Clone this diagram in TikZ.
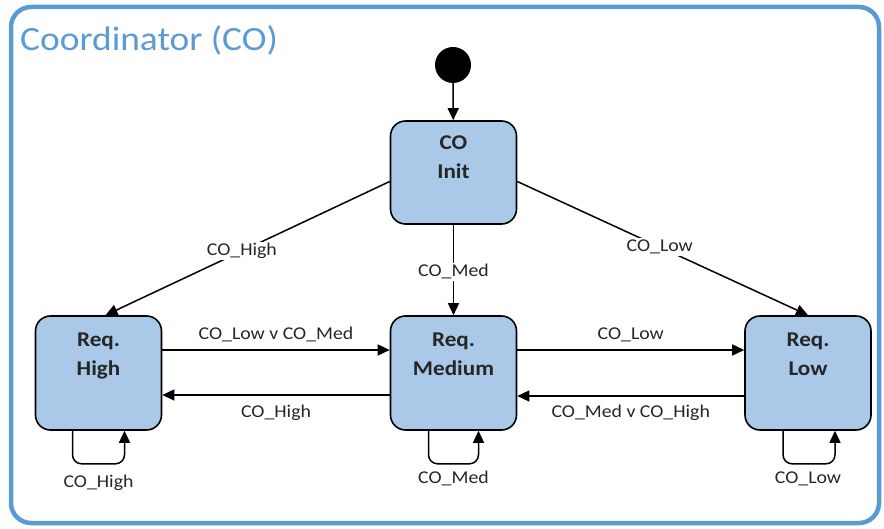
\documentclass[tikz,border=0pt]{standalone}
\usepackage{fontspec}
\setmainfont{Carlito}[FakeStretch=1.1]
\usetikzlibrary{arrows.meta}
\definecolor{framecol}{RGB}{91,155,213}
\definecolor{statefill}{RGB}{170,200,232}
\tikzset{
  x=1pt, y=-1pt,
  frame/.style={draw=framecol, line width=4.5pt, rounded corners=20pt},
  statebox/.style={draw=black, line width=1.6pt, fill=statefill, rounded corners=15pt,
    minimum width=126pt, inner sep=0pt},
  statetext/.style={anchor=north, align=center, inner sep=0pt,
    font=\bfseries\fontsize{21}{29}\selectfont, text=black!85},
  trans/.style={draw=black, line width=1.5pt, -{Triangle[length=12pt,width=11pt]}},
  lbl/.style={font=\fontsize{18}{20}\selectfont, text=black!85, inner sep=1.5pt},
  onlbl/.style={lbl, fill=white},
  initdot/.style={circle, fill=black, minimum size=36pt, inner sep=0pt},
}
\begin{document}
\begin{tikzpicture}
\useasboundingbox (0,0) rectangle (884,529);
% enclosing frame and its title
\draw[frame] (11,7) rectangle (879,523);
\node[anchor=base west, inner sep=0pt, text=framecol, font=\fontsize{34}{36}\selectfont]
  (title) at (20,51) {Coordinator (CO)};

% initial pseudo-state
\node[initdot] (start) at (453,65) {};

% states
\node[statebox, minimum height=103pt] (init) at (453.5,172.5) {};
\node[statebox, minimum height=114pt] (hi)   at (98.5,373) {};
\node[statebox, minimum height=114pt] (me)   at (453.5,373) {};
\node[statebox, minimum height=114pt] (lo)   at (808,373) {};

\node[statetext] (initt) at ([yshift=-15pt]init.north) {CO\\Init};
\node[statetext] (hit)   at ([yshift=-17pt]hi.north) {Req.\\High};
\node[statetext] (met)   at ([yshift=-17pt]me.north) {Req.\\Medium};
\node[statetext] (lot)   at ([yshift=-17pt]lo.north) {Req.\\Low};

% transitions
\draw[trans] (start) -- (init);
\draw[trans] ([yshift=-9pt]init.west) -- node[onlbl, pos=0.52] {CO\_High} ([xshift=7pt]hi.north);
\draw[trans] (init) -- node[onlbl, pos=0.52] {CO\_Med} (me);
\draw[trans] ([yshift=-9pt]init.east) -- node[onlbl, pos=0.49] {CO\_Low} (lo.north);

\draw[trans] ([yshift=23pt]hi.east) -- node[lbl, above=6pt] {CO\_Low v CO\_Med} ([yshift=23pt]me.west);
\draw[trans] ([yshift=-22pt]me.west) -- node[lbl, below=8pt] {CO\_High} ([yshift=-22pt]hi.east);
\draw[trans] ([yshift=23pt]me.east) -- node[lbl, above=6pt] {CO\_Low} ([yshift=23pt]lo.west);
\draw[trans] ([yshift=-23pt]lo.west) -- node[lbl, below=7pt] {CO\_Med v CO\_High} ([yshift=-23pt]me.east);

% self loops
\draw[trans, rounded corners=9pt] ([xshift=-26pt]hi.south) -- ++(0,33) -| ([xshift=26pt]hi.south);
\draw[trans, rounded corners=9pt] ([xshift=-25pt]me.south) -- ++(0,33) -| ([xshift=25pt]me.south);
\draw[trans, rounded corners=9pt] ([xshift=-25pt]lo.south) -- ++(0,33) -| ([xshift=27pt]lo.south);
\node[lbl] (hiloop) at ([yshift=-52pt]hi.south) {CO\_High};
\node[lbl] (meloop) at ([yshift=-48pt]me.south) {CO\_Med};
\node[lbl] (loloop) at ([yshift=-48pt]lo.south) {CO\_Low};
\end{tikzpicture}
\end{document}
